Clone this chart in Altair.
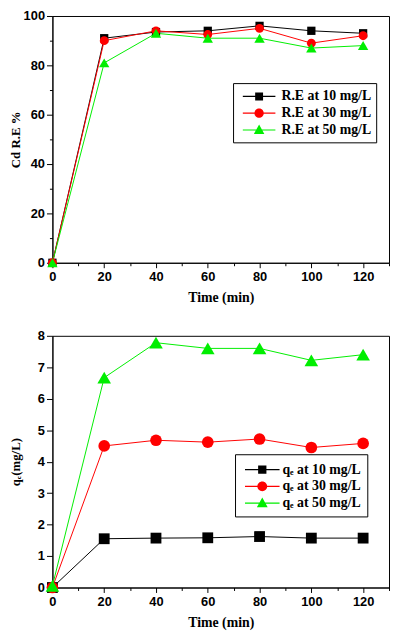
import altair as alt
import pandas as pd

time_min = [0, 20, 40, 60, 80, 100, 120]
re_10 = [0, 91, 93.5, 94, 96, 94, 93]
re_30 = [0, 90, 94, 92.5, 95, 89, 92]
re_50 = [0, 81, 93, 91, 91, 87, 88]
qe_10 = [0, 1.55, 1.57, 1.58, 1.62, 1.57, 1.57]
qe_30 = [0, 4.5, 4.68, 4.62, 4.72, 4.45, 4.58]
qe_50 = [0.05, 6.67, 7.78, 7.6, 7.6, 7.22, 7.4]

re_labels = ["R.E at 10 mg/L", "R.E at 30 mg/L", "R.E at 50 mg/L"]
qe_labels = ["q\u2091 at 10 mg/L", "q\u2091 at 30 mg/L", "q\u2091 at 50 mg/L"]
colors = ["#000000", "#ff0000", "#00ee00"]
shapes = ["square", "circle", "triangle-up"]


def legend_paths(scale, shift, half_len, sq, cr, tr):
    """Legend glyphs: a short line with the series marker, in symbol units."""
    def u(px):
        return round(px / scale, 3)
    c = u(shift)
    line = f"M{u(shift - half_len)},-{u(0.6)}H{u(shift + half_len)}V{u(0.6)}H{u(shift - half_len)}Z"
    square = f"M{round(c - u(sq), 3)},-{u(sq)}H{round(c + u(sq), 3)}V{u(sq)}H{round(c - u(sq), 3)}Z"
    circle = (f"M{round(c + u(cr), 3)},0A{u(cr)},{u(cr)},0,1,1,{round(c - u(cr), 3)},0"
              f"A{u(cr)},{u(cr)},0,1,1,{round(c + u(cr), 3)},0Z")
    tri = f"M{c},-{u(tr * 1.05)}L{round(c + u(tr), 3)},{u(tr * 0.75)}L{round(c - u(tr), 3)},{u(tr * 0.75)}Z"
    return [line + " " + square, line + " " + circle, line + " " + tri]


def make_df(labels, series):
    rows = []
    for lab, vals in zip(labels, series):
        for t, v in zip(time_min, vals):
            rows.append({"time": t, "value": v, "series": lab})
    return pd.DataFrame(rows)


def panel(df, labels, ytitle, ydomain, yvalues, ylabel_expr, ytick_expr,
          sizes, legend_x, legend_y, height, ytitle_pad,
          sym, pad, row_pad, label_off, shift, half_len, sq, cr, tr):
    xenc = alt.X(
        "time:Q",
        scale=alt.Scale(domain=[0, 130], nice=False, zero=False),
        axis=alt.Axis(
            values=list(range(0, 131, 10)),
            labelExpr="datum.value % 20 == 0 ? datum.label : ''",
            tickSize={"condition": {"test": "datum.value % 20 != 0", "value": 3}, "value": 5},
            labelFlush=False,
            labelPadding=3,
            titlePadding=7,
            title="Time (min)",
        ),
    )
    yenc = alt.Y(
        "value:Q",
        scale=alt.Scale(domain=ydomain, nice=False, zero=False),
        axis=alt.Axis(
            values=yvalues,
            labelExpr=ylabel_expr,
            tickSize={"condition": {"test": ytick_expr, "value": 3}, "value": 6},
            labelFlush=False,
            labelPadding=2,
            title=ytitle,
            titleFontSize=13,
            titlePadding=ytitle_pad,
        ),
    )
    base = alt.Chart(df)
    layers = []
    for i, lab in enumerate(labels):
        layers.append(
            base.transform_filter(alt.datum.series == lab)
            .mark_line(color=colors[i], strokeWidth=1)
            .encode(x=xenc, y=yenc)
        )
    for i, lab in enumerate(labels):
        layers.append(
            base.transform_filter(alt.datum.series == lab)
            .mark_point(shape=shapes[i], filled=True, size=sizes[i], color=colors[i], opacity=1)
            .encode(x=xenc, y=yenc)
        )
    legend = alt.Legend(
        title=None,
        orient="none",
        legendX=legend_x,
        legendY=legend_y,
        strokeColor="black",
        padding=pad,
        rowPadding=row_pad,
        symbolSize=sym * sym,
        symbolStrokeWidth=0,
        symbolOpacity=1,
        labelFont="Liberation Serif",
        labelFontWeight="bold",
        labelFontSize=14,
        labelColor="black",
        labelOffset=label_off,
    )
    paths = legend_paths(sym / 2, shift, half_len, sq, cr, tr)
    layers.append(
        base.mark_point(filled=True, opacity=0).encode(
            x=xenc,
            y=yenc,
            color=alt.Color("series:N", scale=alt.Scale(domain=labels, range=colors), legend=legend),
            shape=alt.Shape("series:N", scale=alt.Scale(domain=labels, range=paths), legend=legend),
        )
    )
    return alt.layer(*layers).properties(width=341, height=height)


top = panel(
    make_df(re_labels, [re_10, re_30, re_50]), re_labels, "Cd  R.E %", [0, 100],
    list(range(0, 101, 10)), "datum.value % 20 == 0 ? datum.label : ''",
    "datum.value % 20 != 0", [70, 80, 110], 183, 68, 250, 1,
    17, 5, 1, 27, 12.9, 16.5, 4, 4.7, 5.3,
)
bottom = panel(
    make_df(qe_labels, [qe_10, qe_30, qe_50]), qe_labels, "q\u2091(mg/L)", [0, 8],
    list(range(0, 9, 1)), "datum.label", "false", [120, 140, 190], 185, 120, 255, 15,
    19, 6, 0, 23, 12.1, 17.5, 4.2, 5, 5.5,
)

chart = (
    alt.vconcat(top, bottom, spacing=24)
    .resolve_scale(color="independent", shape="independent")
    .resolve_legend(color="independent", shape="independent")
    .properties(padding={"left": 0, "top": -3, "right": 0, "bottom": 0})
    .configure_view(stroke="black", strokeWidth=1)
    .configure_axis(
        grid=False,
        domainColor="black",
        tickColor="black",
        labelColor="black",
        labelFont="Liberation Sans",
        labelFontWeight="bold",
        labelFontSize=13,
        titleFont="Liberation Serif",
        titleFontWeight="bold",
        titleFontSize=14,
        titleColor="black",
    )
)

chart.save("out.html", embed_options={"renderer": "svg", "actions": False})
